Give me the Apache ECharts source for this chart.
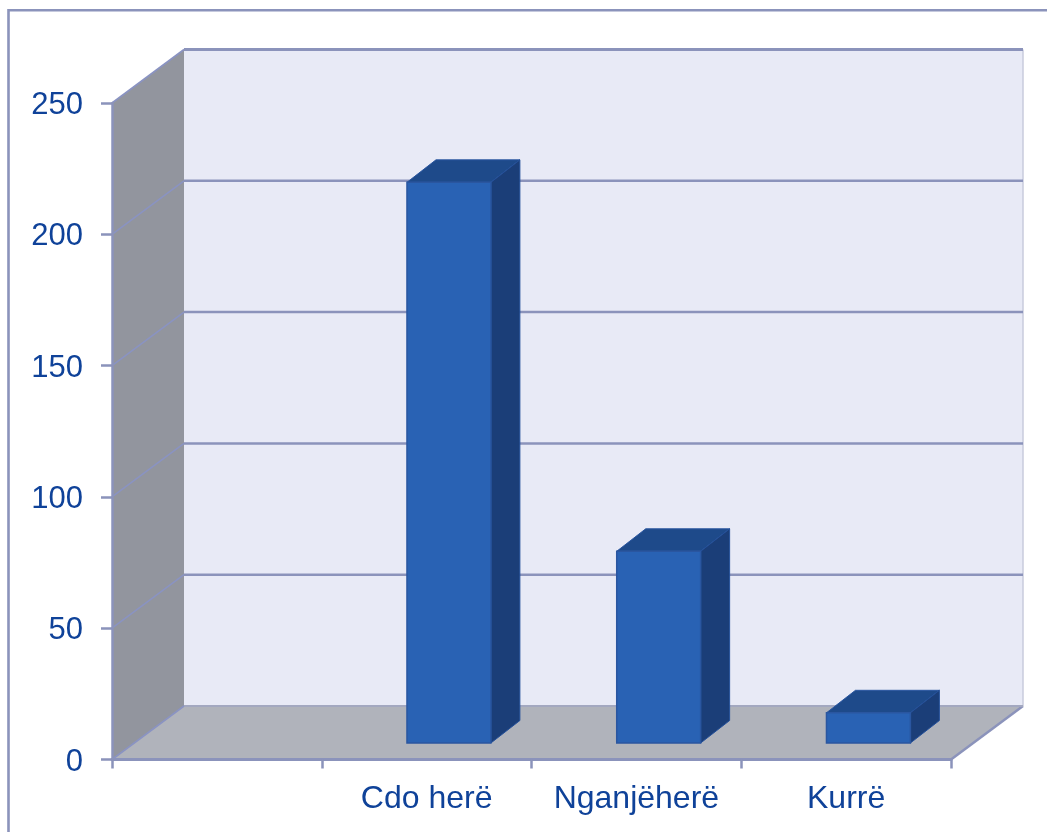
<!DOCTYPE html>
<html>
<head>
<meta charset="utf-8">
<style>html,body{margin:0;padding:0;background:#fff;overflow:hidden}#c{width:1047px;height:832px}</style>
<script src="https://cdn.jsdelivr.net/npm/echarts@6/dist/echarts.min.js"></script>
</head>
<body>
<div id="c"></div>
<script>
const categories = ["", "Cdo herë", "Nganjëherë", "Kurrë"];
const barValues = [null, 213.5, 73, 11.5];
const yTicks = [0, 50, 100, 150, 200, 250];

const FONT = '"Liberation Sans", Arial, sans-serif';
const TEXT = '#0f4299';
const LINE = '#8b93bb';
const WALL_DX = 72, WALL_DY = -53.5;
const BAR_FRONT_DX = 22.3, BAR_FRONT_DY = -16.5;
const BAR_DX = 29, BAR_DY = -22.5;

function poly(points, fill, stroke, lw) {
  return { type: 'polygon', shape: { points }, style: { fill, stroke: stroke || null, lineWidth: lw || 0 } };
}
function seg(a, b, stroke, lw) {
  return { type: 'line', shape: { x1: a[0], y1: a[1], x2: b[0], y2: b[1] }, style: { stroke, lineWidth: lw } };
}

function renderWalls(params, api) {
  const cs = params.coordSys;
  const x0 = cs.x, x1 = cs.x + cs.width;
  const yB = api.coord([0, 0])[1], yT = api.coord([0, 250])[1];
  const bx0 = x0 + WALL_DX, bx1 = x1 + WALL_DX, byB = yB + WALL_DY, byT = yT + WALL_DY;
  return { type: 'group', children: [
    poly([[bx0, byT], [bx1, byT], [bx1, byB], [bx0, byB]], '#e8eaf6'),
    poly([[x0, yT], [bx0, byT], [bx0, byB], [x0, yB]], '#92959e'),
    poly([[x0, yB], [bx0, byB], [bx1, byB], [x1, yB]], '#b0b3bb'),
    seg([bx1, byT], [bx1, byB], '#c9cbdc', 1.5),
    seg([x1, yB], [bx1, byB], LINE, 2.5),
    seg([bx0, byB], [bx1, byB], '#a3a8c0', 2)
  ]};
}

function renderGrid(params, api) {
  const cs = params.coordSys;
  const v = api.value(0);
  const y = api.coord([0, v])[1];
  const x0 = cs.x, x1 = cs.x + cs.width;
  const children = [seg([x0, y], [x0 + WALL_DX, y + WALL_DY], '#8a93c2', 1.6)];
  if (v > 0) children.push(seg([x0 + WALL_DX, y + WALL_DY], [x1 + WALL_DX, y + WALL_DY], LINE, v === 250 ? 3 : 2.5));
  return { type: 'group', children };
}

function renderBar(params, api) {
  const c0 = api.coord([api.value(0), 0]);
  const c1 = api.coord([api.value(0), api.value(1)]);
  const w = api.size([1, 0])[0] * 0.4;
  const l = c0[0] + BAR_FRONT_DX - w / 2, r = l + w;
  const b = c0[1] + BAR_FRONT_DY, t = c1[1] + BAR_FRONT_DY;
  return { type: 'group', children: [
    poly([[l, t], [l + BAR_DX, t + BAR_DY], [r + BAR_DX, t + BAR_DY], [r, t]], '#1e4a8a', '#2a56a0', 1),
    poly([[r, t], [r + BAR_DX, t + BAR_DY], [r + BAR_DX, b + BAR_DY], [r, b]], '#1b3e78', '#24509a', 1),
    poly([[l, t], [r, t], [r, b], [l, b]], '#2962b4', '#2a56a0', 1.5)
  ]};
}

const chart = echarts.init(document.getElementById('c'), null, { renderer: 'canvas' });
chart.setOption({
  animation: false,
  backgroundColor: '#ffffff',
  textStyle: { fontFamily: FONT },
  grid: { left: 112, top: 103, width: 839, height: 656.5, containLabel: false },
  graphic: [{
    type: 'polyline', z: 20,
    shape: { points: [[8.5, 832], [8.5, 10.3], [1047, 10.3]] },
    style: { stroke: LINE, lineWidth: 2.6, fill: null }
  }],
  xAxis: {
    type: 'category', data: categories, z: 10,
    boundaryGap: true,
    axisLine: { show: true, lineStyle: { color: LINE, width: 3 } },
    axisTick: { show: true, alignWithLabel: false, length: 9, interval: 0, lineStyle: { color: LINE, width: 2.5 } },
    axisLabel: { show: true, interval: 0, margin: 24, color: TEXT, fontSize: 32, fontFamily: FONT },
    splitLine: { show: false }
  },
  yAxis: {
    type: 'value', min: 0, max: 250, interval: 50, z: 10,
    axisLine: { show: true, lineStyle: { color: LINE, width: 2.5 } },
    axisTick: { show: true, length: 11, lineStyle: { color: LINE, width: 2.5 } },
    axisLabel: {
      show: true, margin: 29, color: TEXT, fontSize: 31, fontFamily: FONT,
      formatter: '{a|{value}}',
      rich: { a: { color: TEXT, fontSize: 31, fontFamily: FONT, padding: [5, 0, 0, 0] } }
    },
    splitLine: { show: false }
  },
  series: [
    { name: 'walls', type: 'custom', z: 1, silent: true, renderItem: renderWalls, data: [[0]], encode: { x: -1, y: -1 } },
    { name: 'grid', type: 'custom', z: 2, silent: true, renderItem: renderGrid, data: yTicks.map(v => [v]), encode: { x: -1, y: -1 } },
    { name: 'bars', type: 'custom', z: 3, renderItem: renderBar,
      data: barValues.map((v, i) => [i, v]).filter(d => d[1] !== null), encode: { x: 0, y: 1 } }
  ]
});
</script>
</body>
</html>
